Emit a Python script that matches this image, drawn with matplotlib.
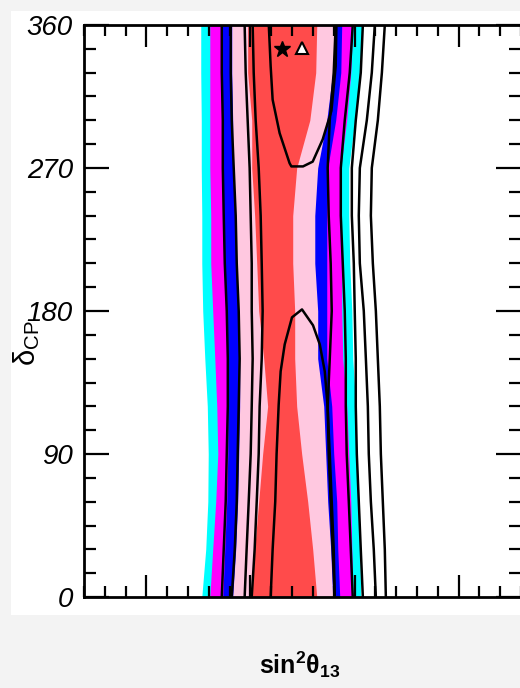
import matplotlib
matplotlib.use('Agg')
import matplotlib.pyplot as plt
from matplotlib.patches import Rectangle
from matplotlib.ticker import MultipleLocator

plt.rcParams['font.family'] = ['Liberation Sans', 'DejaVu Sans']
plt.rcParams['mathtext.fontset'] = 'custom'
plt.rcParams['mathtext.rm'] = 'Liberation Sans'
plt.rcParams['mathtext.it'] = 'Liberation Sans:italic'
plt.rcParams['mathtext.bf'] = 'Liberation Sans:bold'

# delta_CP grid (degrees)
delta = [0, 30, 60, 90, 120, 150, 180, 210, 240, 270, 300, 330, 360]

# allowed regions: left / right edge of sin^2(theta13) at each delta
cyan_l = [0.02532, 0.02570, 0.02590, 0.02594, 0.02585, 0.02561, 0.02541, 0.02532, 0.02532, 0.02527, 0.02527, 0.02522, 0.02522]
cyan_r = [0.04060, 0.04051, 0.04041, 0.04022, 0.04012, 0.03983, 0.03974, 0.03954, 0.03945, 0.03945, 0.04002, 0.04051, 0.04070]
mag_l = [0.02609, 0.02637, 0.02666, 0.02686, 0.02676, 0.02657, 0.02637, 0.02618, 0.02618, 0.02609, 0.02609, 0.02609, 0.02609]
mag_r = [0.03983, 0.03974, 0.03964, 0.03945, 0.03925, 0.03887, 0.03877, 0.03877, 0.03868, 0.03868, 0.03925, 0.03964, 0.03983]
blue_l = [0.02734, 0.02753, 0.02772, 0.02782, 0.02782, 0.02782, 0.02772, 0.02753, 0.02743, 0.02734, 0.02734, 0.02724, 0.02724]
blue_r = [0.03858, 0.03839, 0.03829, 0.03800, 0.03781, 0.03733, 0.03733, 0.03733, 0.03733, 0.03742, 0.03819, 0.03868, 0.03877]
pink_l = [0.02829, 0.02858, 0.02877, 0.02887, 0.02896, 0.02896, 0.02877, 0.02868, 0.02849, 0.02829, 0.02829, 0.02820, 0.02820]
pink_r = [0.03790, 0.03771, 0.03742, 0.03723, 0.03704, 0.03646, 0.03646, 0.03618, 0.03618, 0.03646, 0.03733, 0.03790, 0.03810]
red_l = [0.03012, 0.03040, 0.03079, 0.03117, 0.03165, 0.03127, 0.03079, 0.03060, 0.03040, 0.03012, 0.03012, 0.02973, 0.02973]
red_r = [0.03637, 0.03598, 0.03550, 0.03492, 0.03444, 0.03425, 0.03425, 0.03406, 0.03406, 0.03444, 0.03570, 0.03627, 0.03637]

# black contour lines (open, running the full delta range)
line_la = [0.02724, 0.02743, 0.02762, 0.02772, 0.02782, 0.02782, 0.02772, 0.02753, 0.02743, 0.02734, 0.02734, 0.02724, 0.02724]
line_lb = [0.02820, 0.02849, 0.02868, 0.02877, 0.02887, 0.02896, 0.02887, 0.02868, 0.02858, 0.02839, 0.02820, 0.02810, 0.02810]
line_lc = [0.02944, 0.02963, 0.02983, 0.03002, 0.03012, 0.03021, 0.03012, 0.03012, 0.03002, 0.02992, 0.02973, 0.02954, 0.02944]
line_ld = [0.03012, 0.03040, 0.03060, 0.03079, 0.03088, 0.03108, 0.03117, 0.03108, 0.03098, 0.03079, 0.03050, 0.03031, 0.03021]
line_ra = [0.03810, 0.03790, 0.03771, 0.03752, 0.03742, 0.03762, 0.03781, 0.03771, 0.03752, 0.03742, 0.03762, 0.03800, 0.03819]
line_rb = [0.03983, 0.03964, 0.03945, 0.03925, 0.03916, 0.03916, 0.03906, 0.03887, 0.03868, 0.03868, 0.03906, 0.03954, 0.03983]
line_rc = [0.04080, 0.04060, 0.04041, 0.04022, 0.04012, 0.04012, 0.04002, 0.03993, 0.03974, 0.03974, 0.04012, 0.04060, 0.04080]
line_rd = [0.04205, 0.04185, 0.04157, 0.04137, 0.04128, 0.04109, 0.04089, 0.04051, 0.04041, 0.04051, 0.04118, 0.04166, 0.04195]
line_re = [0.04301, 0.04291, 0.04272, 0.04253, 0.04243, 0.04224, 0.04205, 0.04176, 0.04157, 0.04166, 0.04224, 0.04263, 0.04291]

# inner contours (top cap and bottom arch)
top_x = [0.03176, 0.03194, 0.03213, 0.03280, 0.03376, 0.03393, 0.03505, 0.03598, 0.03694, 0.03778, 0.03819, 0.03826]
top_d = [360, 334, 313, 292, 273, 271, 271, 274, 288, 306, 334, 360]
arch_x = [0.03194, 0.03213, 0.03238, 0.03251, 0.03271, 0.03290, 0.03329, 0.03399, 0.03495,
          0.03601, 0.03666, 0.03714, 0.03740, 0.03762, 0.03781, 0.03800, 0.03810]
arch_d = [0, 30, 60, 90, 121, 142, 159, 176, 181, 171, 159, 142, 121, 90, 60, 30, 0]

# best fit points
star_pt = (0.03303, 344.7)
tri_pt = (0.03499, 345.7)

yticks = [0, 90, 180, 270, 360]
ytick_labels = ['0', '90', '180', '270', '360']
xmajor = [0.02, 0.03, 0.04, 0.05]

fig = plt.figure(figsize=(5.2, 6.88), dpi=100, facecolor='#f3f3f3')
fig.add_artist(Rectangle((11 / 520, 73 / 688), 509 / 520, 604 / 688,
                         transform=fig.transFigure, facecolor='white',
                         edgecolor='none', zorder=0))

ax = fig.add_axes([84 / 520, 91 / 688, 437 / 520, 572 / 688])
ax.set_facecolor('white')

# filled regions, outer to inner
for left, right, col in [(cyan_l, cyan_r, '#00ffff'),
                         (mag_l, mag_r, '#ff00ff'),
                         (blue_l, blue_r, '#0000ff'),
                         (pink_l, pink_r, '#ffc8e0'),
                         (red_l, red_r, '#ff4b4b')]:
    ax.fill_betweenx(delta, left, right, color=col, lw=0)

for xs in [line_la, line_lb, line_lc, line_ld, line_ra, line_rb, line_rc, line_rd, line_re]:
    ax.plot(xs, delta, color='black', lw=1.8)
ax.plot(top_x, top_d, color='black', lw=1.8)
ax.plot(arch_x, arch_d, color='black', lw=1.8)

ax.plot(*star_pt, marker='*', color='black', markersize=12, ls='none')
ax.plot(*tri_pt, marker='^', markerfacecolor='white', markeredgecolor='black',
        markeredgewidth=1.5, markersize=9, ls='none')

ax.set_xlim(0.014, 0.056)
ax.set_ylim(0, 360)

ax.set_xticks(xmajor)
ax.xaxis.set_minor_locator(MultipleLocator(0.002))
ax.set_yticks(yticks)
ax.set_yticklabels(ytick_labels, fontsize=20, style='italic')
ax.yaxis.set_minor_locator(MultipleLocator(15))

ax.tick_params(which='both', direction='in', top=True, right=True, width=1.6,
               labelbottom=False)
ax.tick_params(axis='x', which='major', length=16)
ax.tick_params(axis='x', which='minor', length=8)
ax.tick_params(axis='y', which='major', length=18, pad=8)
ax.tick_params(axis='y', which='minor', length=8.5)
for s in ax.spines.values():
    s.set_linewidth(2)

fig.text(27 / 520, 1 - 343 / 688, r'$\mathrm{\delta}_{\mathrm{CP}}$',
         rotation=90, fontsize=21, ha='center', va='center')
fig.text(300 / 520, 1 - 665 / 688, r'$\mathbf{sin^2\theta_{13}}$',
         fontsize=18, ha='center', va='center')

fig.savefig('out.png', dpi=100, facecolor=fig.get_facecolor())
